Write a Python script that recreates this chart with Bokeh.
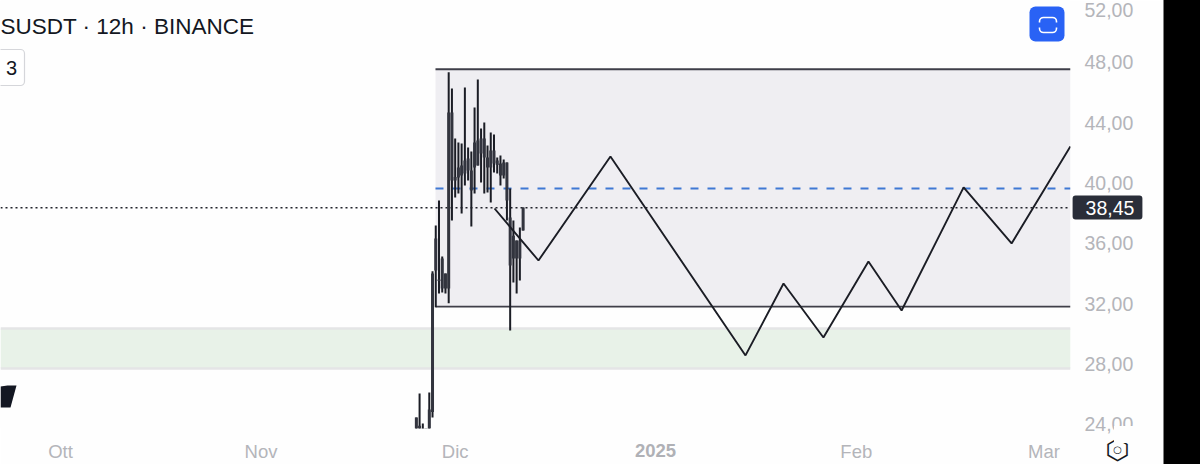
import math
import pandas as pd
from bokeh.embed import file_html
from bokeh.resources import INLINE
from bokeh.plotting import figure
from bokeh.models import Range1d, FixedTicker, Label, BoxAnnotation, PolyAnnotation, ColumnDataSource

# ---- data ----
title_text = "SUSDT · 12h · BINANCE"
badge_text = "3"
last_label = "38,45"
candle_start = "2024-11-25 00:00"
highs = [24.44, 26.04, 24.05, 23.6, 26.10, 34.15, 37.18, 38.84, 35.13, 34.00, 47.36, 46.27, 42.96, 42.69, 42.62, 46.34, 42.36,
         42.09, 45.01, 46.87, 43.62, 44.02, 42.49, 43.36, 43.22, 41.70, 41.83, 41.56, 41.36, 39.64, 37.52, 36.19, 37.05, 38.38]
lows = [23.5, 23.5, 23.5, 23.4, 23.5, 24.44, 31.76, 32.67, 32.74, 32.67, 32.03, 37.52, 39.04, 39.31, 37.98, 39.84, 40.17,
        37.12, 39.31, 41.17, 40.04, 39.31, 39.37, 38.71, 40.70, 40.63, 39.84, 40.30, 37.52, 30.22, 33.40, 32.67, 33.53, 36.85]
body_tops = [24.44, 23.9, 23.7, 23.5, 24.97, 34.0, 36.32, 33.6, 35.0, 34.0, 44.68, 44.68, 40.4, 41.03, 41.17, 41.5, 41.63,
             40.83, 42.69, 42.82, 42.96, 42.96, 41.7, 42.16, 42.16, 41.5, 41.3, 41.36, 41.36, 37.71, 36.5, 36.19, 36.19, 38.38]
body_bots = [23.5, 23.5, 23.5, 23.4, 23.5, 24.8, 34.20, 33.5, 33.0, 33.0, 33.00, 40.17, 40.17, 40.37, 40.5, 40.63, 40.83,
             39.5, 41.03, 41.17, 41.96, 41.7, 41.03, 41.03, 41.3, 41.2, 40.5, 40.5, 38.84, 34.53, 35.0, 35.0, 35.0, 36.85]
path_dates = ["2024-12-07 02:00", "2024-12-13 21:00", "2024-12-25 00:00", "2025-01-14 21:00", "2025-01-20 18:00",
              "2025-01-26 22:00", "2025-02-02 21:00", "2025-02-08 00:00", "2025-02-17 14:00", "2025-02-25 00:00", "2025-03-06 02:00"]
path_prices = [38.31, 34.86, 41.76, 28.56, 33.33, 29.75, 34.79, 31.54, 39.71, 35.99, 42.43]
range_start = "2024-11-27 23:00"
range_top, range_bottom = 47.55, 31.80
zone_top, zone_bottom = 30.35, 27.70
dash_level = 39.64
dot_level = 38.36
x_tick_dates = ["2024-10-01", "2024-11-01", "2024-12-01", "2025-02-01", "2025-03-02"]
x_tick_labels = ["Ott", "Nov", "Dic", "Feb", "Mar"]
year_label = "2025"
y_ticks = [24, 28, 32, 36, 40, 44, 48]
y_labels = ["24,00", "28,00", "32,00", "36,00", "40,00", "44,00", "48,00"]
top_tick_label = "52,00"

def ms(d):
    return pd.Timestamp(d).value / 1e6

DAY = 86400000.0
PX_PER_DAY = 6.47
oct1 = ms("2024-10-01")
x_start = oct1 - 60 / PX_PER_DAY * DAY
x_end = oct1 + (1070 - 60) / PX_PER_DAY * DAY

p = figure(width=1200, height=464, frame_width=1070, frame_height=428, output_backend="svg", toolbar_location=None,
           x_range=Range1d(x_start, x_end), y_range=Range1d(23.71, 52.114),
           y_axis_location="right", min_border_left=0, min_border_top=0,
           min_border_right=0, min_border_bottom=0,
           background_fill_color="#fefefe", border_fill_color="#fefefe", outline_line_color=None)
p.grid.visible = False

FONT = "Liberation Sans"
GREY = "#b4b5ba"
for ax in (p.xaxis[0], p.yaxis[0]):
    ax.axis_line_color = None
    ax.major_tick_line_color = None
    ax.minor_tick_line_color = None
    ax.major_tick_in = 0
    ax.major_tick_out = 0
    ax.minor_tick_in = 0
    ax.minor_tick_out = 0
    ax.major_label_text_color = GREY
    ax.major_label_text_font = FONT

xt = [int(ms(d)) for d in x_tick_dates]
p.xaxis[0].ticker = FixedTicker(ticks=xt)
p.xaxis[0].major_label_overrides = dict(zip(xt, x_tick_labels))
p.xaxis[0].major_label_text_font_size = "18.5px"
p.xaxis[0].major_label_standoff = 12
p.yaxis[0].ticker = FixedTicker(ticks=y_ticks)
p.yaxis[0].major_label_overrides = dict(zip(y_ticks, y_labels))
p.yaxis[0].major_label_text_font_size = "19.5px"
p.yaxis[0].major_label_standoff = 14

# bands
p.quad(left=[x_start], right=[x_end], top=[zone_top], bottom=[zone_bottom], fill_color="#e8f2e8", line_color=None)
p.segment(x0=[x_start, x_start], x1=[x_end, x_end], y0=[zone_top, zone_bottom], y1=[zone_top, zone_bottom],
          line_color="#e4e5e6", line_width=2.5)
rs = ms(range_start)
p.quad(left=[rs], right=[x_end], top=[range_top], bottom=[range_bottom], fill_color="#efeef2", line_color=None)
p.segment(x0=[rs, rs], x1=[x_end, x_end], y0=[range_top, range_bottom], y1=[range_top, range_bottom],
          line_color="#3f3f49", line_width=1.9)

# level lines
p.segment(x0=[rs], x1=[x_end], y0=[dash_level], y1=[dash_level], line_color="#3f78d4", line_width=2, line_dash="8 9")
p.segment(x0=[x_start], x1=[x_end], y0=[dot_level], y1=[dot_level], line_color="#20222b", line_width=1.5, line_dash="2 3")

# candles
t = [ms(d) for d in pd.date_range(candle_start, periods=len(highs), freq="12h")]
src = ColumnDataSource(dict(t=t, h=highs, l=lows, bt=body_tops, bb=body_bots))
p.segment(x0="t", x1="t", y0="l", y1="h", source=src, line_color="#1b1d25", line_width=2)
p.vbar(x="t", width=0.46 * DAY, top="bt", bottom="bb", source=src, fill_color="#32343e", line_color=None)

# drawn path
p.line([ms(d) for d in path_dates], path_prices, line_color="#1b1d25", line_width=1.9)

def box(l, r, t, b, fill, line=None, lw=1, radius=0):
    p.add_layout(BoxAnnotation(left=l, right=r, top=t, bottom=b, left_units="canvas", right_units="canvas",
                               top_units="canvas", bottom_units="canvas", fill_color=fill, fill_alpha=1 if fill else 0,
                               line_color=line, line_width=lw, line_alpha=1 if line else 0, border_radius=radius))

def label(x, y, text, size, color, align="left", weight="normal", place="center", font=FONT, **kw):
    p.add_layout(Label(x=x, y=y, x_units="canvas", y_units="canvas", text=text, text_font=font,
                       text_font_size=size, text_color=color, text_align=align, text_baseline="middle",
                       text_font_style=weight, **kw), place)

label(0, 26, title_text, "22.5px", "#131722")
box(-20, 24, 49, 85, "#ffffff", "#d5d6da", 1.2, 4)
label(11, 67, badge_text, "20px", "#131722", "center")
box(1029, 1064, 6, 41, "#2962f5", None, 1, 6)
box(1039, 1056, 17, 32, None, "#ffffff", 1.6, 4)
box(1037, 1041, 22, 27, "#2962f5")
box(1054, 1058, 22, 27, "#2962f5")
p.add_layout(PolyAnnotation(xs=[0, 7, 16, 10, 0], ys=[386, 385, 385, 407, 407], xs_units="canvas", ys_units="canvas",
                            fill_color="#131722", fill_alpha=1, line_color=None))

label(1084, 9, top_tick_label, "19.5px", GREY, place="right")
label(1107, 207, last_label, "19.5px", "#ffffff", "center", place="right",
      background_fill_color="#2a2e39", padding=dict(left=13, right=8, top=5, bottom=5), border_radius=3)
label(1150, 434, " ", "4px", "#fefefe", "center", place="right", background_fill_color="#fefefe",
      padding=dict(left=36, right=36, top=6, bottom=6))
label(1163, 232, " ", "2px", "#000000", place="right", background_fill_color="#000000",
      padding=dict(left=0, right=37, top=232, bottom=232))
label(655, 450, year_label, "18.5px", "#b0b1b6", "center", "bold", place="below")
label(1117, 449, "\u2b21", "28px", "#131722", "center", place="below", font="DejaVu Sans")
label(1117, 449, "\u25cb", "10px", "#131722", "center", place="below", font="DejaVu Sans")

open("out.html", "w").write(file_html(p, INLINE))
